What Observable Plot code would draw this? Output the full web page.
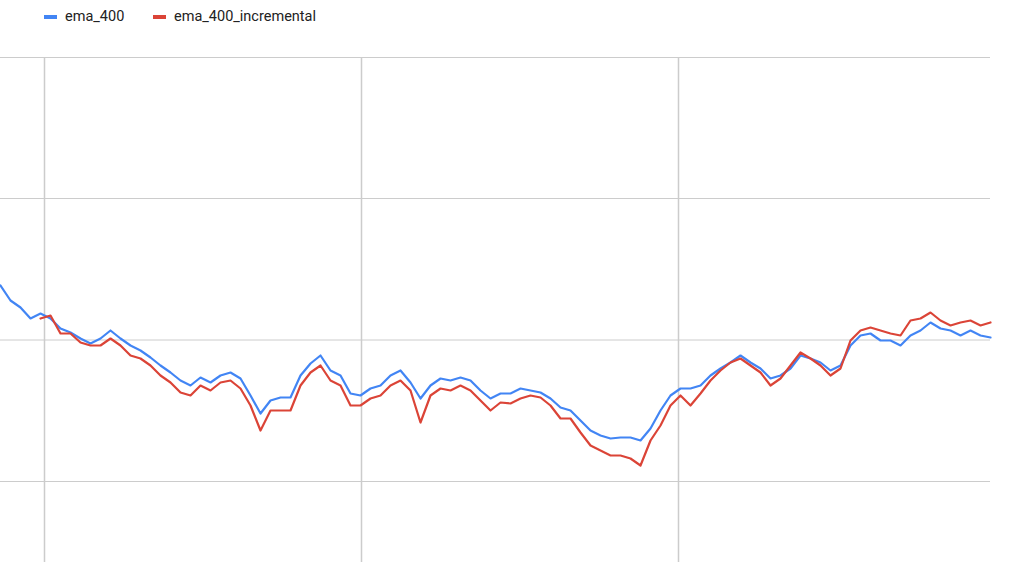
<!DOCTYPE html>
<html><head><meta charset="utf-8">
<script src="https://cdn.jsdelivr.net/npm/d3@7"></script>
<script src="https://cdn.jsdelivr.net/npm/@observablehq/plot@0.6"></script>
<style>
body{margin:0;background:#fff;font-family:Roboto,Arial,sans-serif}
#legend{height:40px;position:relative;font-size:14.5px;color:#222}
.it{position:absolute;top:8px;display:flex;align-items:center}
.sw{width:13px;height:4px;margin-right:8px}
</style></head><body>
<div id="legend">
  <div class="it" style="left:44px"><span class="sw" style="background:#4285f4"></span>ema_400</div>
  <div class="it" style="left:153px"><span class="sw" style="background:#db4437"></span>ema_400_incremental</div>
</div>
<div id="chart"></div>
<script>
const step = 10;
const ema400 = [196,181,174,163,168,163,153,149,143,138,143,151,143,136,131,124,116,109,101,96,104,99,106,109,103,86,68,81,84,84,106,118,126,111,106,88,86,93,96,106,111,99,83,96,103,101,104,101,91,83,88,88,93,91,89,83,74,71,61,51,46,43,44,44,41,53,71,86,93,93,96,106,113,119,126,119,113,103,106,113,126,123,119,111,116,136,146,148,141,141,136,146,151,159,153,151,146,151,146,144];
const incStart = 4;
const ema400inc = [163,166,148,148,139,136,136,143,136,126,123,116,106,99,89,86,96,91,99,101,93,76,51,71,71,71,96,109,116,101,96,76,76,83,86,96,101,91,59,86,93,91,96,91,81,71,79,78,83,86,84,76,63,63,49,36,31,26,26,23,16,41,56,76,86,76,88,101,111,119,123,116,109,96,103,116,129,123,116,106,113,141,151,154,151,148,146,161,163,169,161,156,159,161,156,159];
const yGrid = [0,141.5,283,424];
const xGrid = [44,361,678];

const blue = ema400.map((v,i)=>({x:i*step,y:v}));
const red = ema400inc.map((v,i)=>({x:(i+incStart)*step,y:v}));

const chart = Plot.plot({
  width:1020, height:522,
  marginTop:17, marginBottom:81, marginLeft:0, marginRight:30,
  x:{domain:[0,990], axis:null},
  y:{domain:[0,424], axis:null},
  marks:[
    Plot.ruleY(yGrid,{stroke:"#ccc", strokeWidth:1, strokeOpacity:1}),
    Plot.ruleX(xGrid,{stroke:"#ccc", strokeWidth:1.5, strokeOpacity:1, y1:424, y2:-86}),
    Plot.lineY(blue,{x:"x",y:"y",stroke:"#4285f4",strokeWidth:2.2}),
    Plot.lineY(red,{x:"x",y:"y",stroke:"#db4437",strokeWidth:2.2})
  ]
});
d3.select('#chart').append(()=>chart);
</script>
</body></html>
